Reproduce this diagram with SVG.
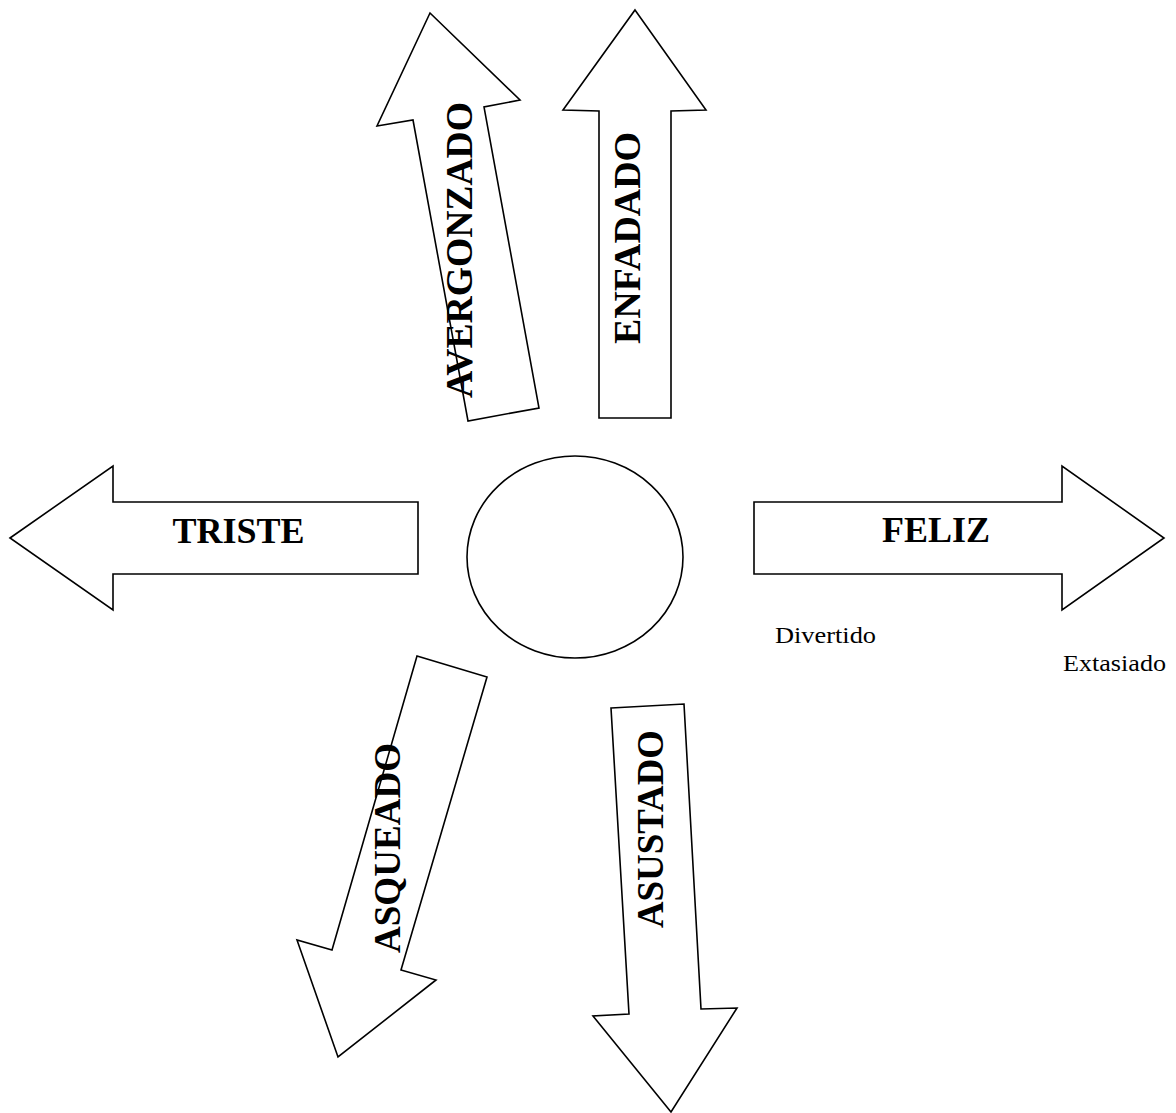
<svg xmlns="http://www.w3.org/2000/svg" width="1176" height="1113" viewBox="0 0 1176 1113">
<style>
.shape{fill:#fff;stroke:#000;stroke-width:1.6;stroke-linejoin:miter}
.big{font-family:"Liberation Serif","Times New Roman",serif;font-weight:bold;font-size:36px;fill:#000}
.vert{font-family:"Liberation Serif","Times New Roman",serif;font-weight:bold;font-size:38px;fill:#000}
.small{font-family:"Liberation Serif","Times New Roman",serif;font-size:24px;fill:#000}
</style>
<rect width="1176" height="1113" fill="#fff"/>
<g id="center">
<ellipse class="shape" cx="575" cy="557" rx="108" ry="101"/>
</g>
<g id="connectors"></g>
<g id="avergonzado">
<polygon class="shape" points="430,13 520,100 484,107 539,408 468,421 413,120 377,126"/>
<text class="vert" text-anchor="middle" transform="translate(472,250) rotate(-90)" textLength="296" lengthAdjust="spacingAndGlyphs">AVERGONZADO</text>
</g>
<g id="enfadado">
<polygon class="shape" points="635,10 706,110 671,111 671,418 599,418 599,111 563,110"/>
<text class="vert" text-anchor="middle" transform="translate(640,238) rotate(-90)" textLength="212" lengthAdjust="spacingAndGlyphs">ENFADADO</text>
</g>
<g id="triste">
<polygon class="shape" points="10,538 113,466 113,502 418,502 418,574 113,574 113,610"/>
<text class="big" x="238.5" y="543" text-anchor="middle">TRISTE</text>
</g>
<g id="feliz">
<polygon class="shape" points="754,502 1062,502 1062,466 1164,538 1062,610 1062,574 754,574"/>
<text class="big" x="936" y="542" text-anchor="middle">FELIZ</text>
</g>
<g id="divertido">
<text class="small" x="775" y="643" textLength="101" lengthAdjust="spacingAndGlyphs">Divertido</text>
</g>
<g id="extasiado">
<text class="small" x="1063" y="671" textLength="103" lengthAdjust="spacingAndGlyphs">Extasiado</text>
</g>
<g id="asqueado">
<polygon class="shape" points="417,656 487,677 401,970 436,980 338,1057 297,940 332,950"/>
<text class="vert" text-anchor="middle" transform="translate(400,848) rotate(-90)" textLength="210" lengthAdjust="spacingAndGlyphs">ASQUEADO</text>
</g>
<g id="asustado">
<polygon class="shape" points="611,708 684,704 701,1009 737,1008 671,1112 593,1016 629,1014"/>
<text class="vert" text-anchor="middle" transform="translate(663,829) rotate(-90)" textLength="198" lengthAdjust="spacingAndGlyphs">ASUSTADO</text>
</g>
</svg>
